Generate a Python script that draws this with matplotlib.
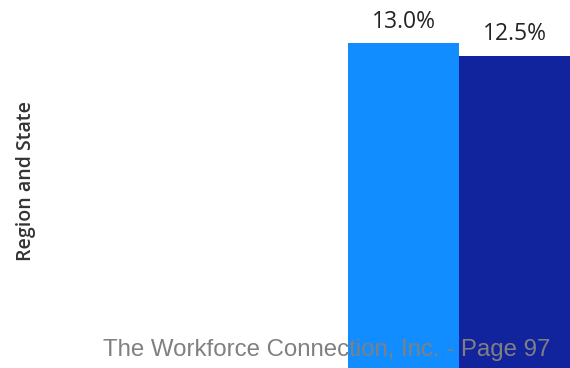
import matplotlib.pyplot as plt

# values shown in the chart
series = ["Region", "State"]
rates = [13.0, 12.5]
labels = ["13.0%", "12.5%"]
colors = ["#118DFF", "#12239E"]

fig = plt.figure(figsize=(5.7, 3.68), dpi=100)
ax = fig.add_axes([0, 0, 1, 1])

ax.bar(range(len(rates)), rates, width=1.0, align="edge", color=colors)
for i, (val, lab) in enumerate(zip(rates, labels)):
    ax.annotate(lab, (i + 0.5, val), xytext=(0, 6.5), textcoords="offset points",
                ha="center", va="bottom", fontsize=16.5, family="Open Sans",
                color="#252423")

ax.set_xlim(-3.135, 2.0)
ax.set_ylim(0, 14.72)
ax.axis("off")

fig.text(0.046, 0.508, "Region and State", rotation=90, ha="center", va="center",
         fontsize=14, family="Open Sans", fontweight="semibold", color="#333333")

fig.text(0.574, 0.049, "The Workforce Connection, Inc. - Page 97", ha="center",
         va="center", fontsize=17.3, family="Liberation Sans", color="#808080")

fig.savefig("out.png", dpi=100)
